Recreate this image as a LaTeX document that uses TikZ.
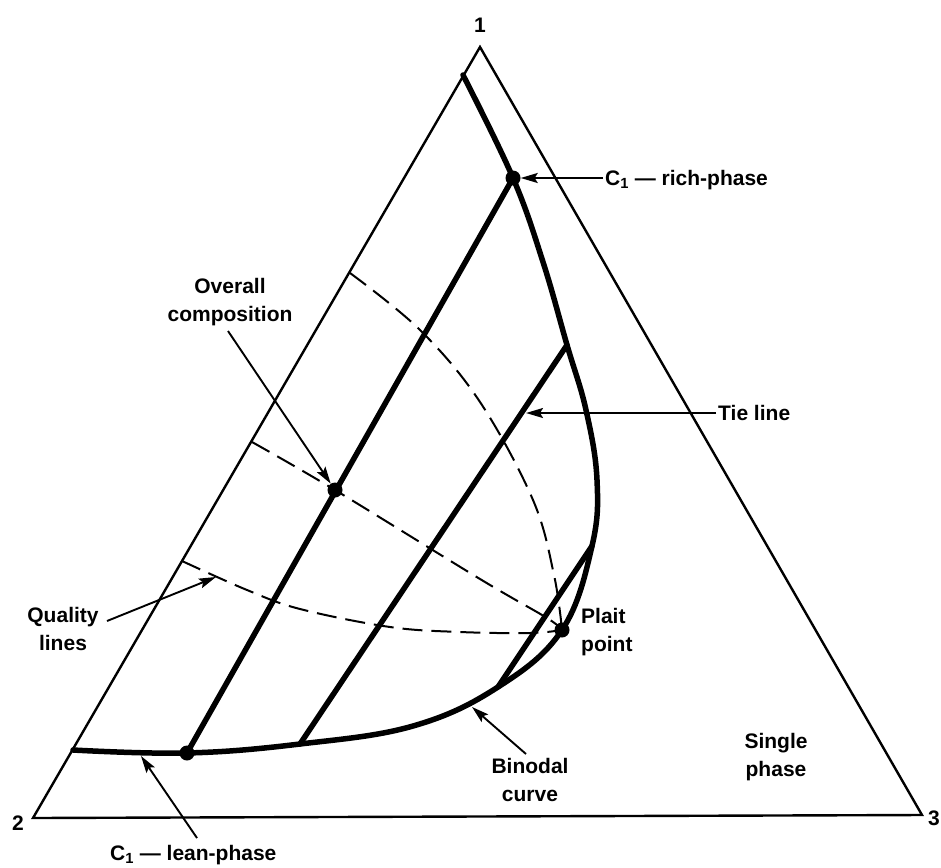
\documentclass[tikz,border=0pt]{standalone}
\usepackage{fontspec}
\setmainfont{Liberation Sans}
\usetikzlibrary{arrows.meta}
\begin{document}
\begin{tikzpicture}[x=1pt,y=-1pt,
  thinline/.style={line width=2.4pt, line join=miter},
  thickline/.style={line width=5.5pt, line cap=round, line join=round},
  qline/.style={line width=2pt, dash pattern=on 20pt off 9pt},
  lbl/.style={font=\fontsize{21}{28}\selectfont\bfseries, inner sep=0pt},
  arr/.style={line width=1.9pt, -{Stealth[length=17pt,width=10pt,inset=3pt]}},
  dotnode/.style={circle, fill, inner sep=0pt, minimum size=15pt},
]
\useasboundingbox (0,0) rectangle (941,867);

% triangle vertices
\coordinate (v1) at (480,47);
\coordinate (v2) at (33,818);
\coordinate (v3) at (922,815);
\draw[thinline] (v1) -- (v2) -- (v3) -- cycle;

% key points
\coordinate (rich) at (513,178);
\coordinate (ovr) at (335,490);
\coordinate (lean) at (187,753);
\coordinate (plait) at (562,630);
\coordinate (bstart) at (73,750);
\coordinate (bend) at (463,75);
\coordinate (t2a) at (567,345);
\coordinate (t2b) at (300,744);
\coordinate (t3a) at (592,546);
\coordinate (t3b) at (498,687);
\coordinate (q1a) at (350,273);
\coordinate (q2a) at (252,442);
\coordinate (q3a) at (182,561);

% quality lines
\draw[qline] plot[smooth, tension=0.6] coordinates {(q1a) (420,330) (480,402) (533,500) (554,575) (562,630)};
\draw[qline] plot[smooth, tension=0.6] coordinates {(q2a) (335,490) (480,579) (547,618) (562,630)};
\draw[qline] plot[smooth, tension=0.6] coordinates {(q3a) (247,590) (300,609) (390,627) (460,632) (530,633) (562,630)};

% tie lines
\draw[thickline] (rich) -- (lean);
\draw[thickline] (t2a) -- (t2b);
\draw[thickline] (t3a) -- (t3b);

% binodal curve
\draw[thickline] plot[smooth, tension=0.65] coordinates {(bstart) (187,753) (300,744) (413,726) (498,687) (562,630) (592,546) (597,480) (586,410) (567,345) (543,262) (513,178) (bend)};

% dots
\node[dotnode] (richdot) at (rich) {};
\node[dotnode] (ovrdot) at (ovr) {};
\node[dotnode] (leandot) at (lean) {};
\node[dotnode] (plaitdot) at (plait) {};

% labels
\node[lbl, anchor=base] (l1) at (480,33) {1};
\node[lbl, anchor=base] (l2) at (18,830) {2};
\node[lbl, anchor=base west] (l3) at (928,825) {3};
\node[lbl, anchor=base west] (richlbl) at (605,185) {C\textsubscript{1} — rich-phase};
\node[lbl, anchor=base west] (tielbl) at (718,420) {Tie line};
\node[lbl, anchor=base west] (leanlbl) at (110,860) {C\textsubscript{1} — lean-phase};
\node[lbl, anchor=north, align=center] (ovrlbl) at (230,278) {Overall\\composition};
\node[lbl, anchor=north, align=center] (qlbl) at (63,607) {Quality\\lines};
\node[lbl, anchor=north west, align=left] (plaitlbl) at (581,608) {Plait\\point};
\node[lbl, anchor=north, align=center] (binlbl) at (530,758) {Binodal\\curve};
\node[lbl, anchor=north, align=center] (singlbl) at (776,733) {Single\\phase};

% arrows
\coordinate (richtail) at (603,178);
\coordinate (tietail) at (716,413);
\coordinate (tietip) at (526,413);
\coordinate (ovrtail) at (228,331);
\coordinate (qtail) at (107,621);
\coordinate (qtip) at (216,577);
\coordinate (bintail) at (526,754);
\coordinate (bintip) at (472,707);
\coordinate (leantail) at (197,838);
\coordinate (leantip) at (141,756);
\draw[arr] (richtail) -- (richdot);
\draw[arr] (tietail) -- (tietip);
\draw[arr] (ovrtail) -- (ovrdot);
\draw[arr] (qtail) -- (qtip);
\draw[arr] (bintail) -- (bintip);
\draw[arr] (leantail) -- (leantip);
\end{tikzpicture}
\end{document}
